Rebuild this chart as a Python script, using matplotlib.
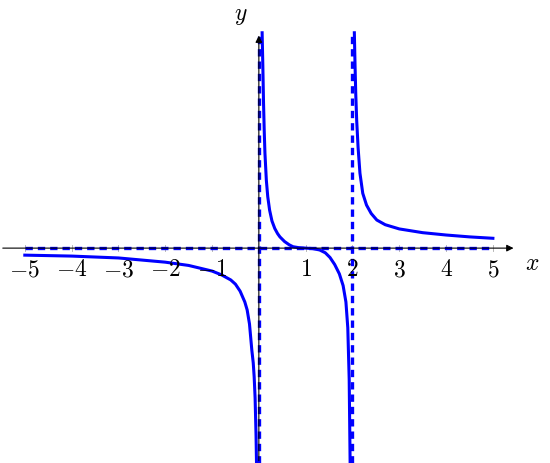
import matplotlib.pyplot as plt

plt.rcParams['mathtext.fontset'] = 'cm'

# branch x < 0
x1 = [-5, -4, -3, -2, -1.5, -1, -0.8, -0.6, -0.5, -0.4, -0.3, -0.25, -0.2,
      -0.15, -0.12, -0.1, -0.08, -0.07, -0.06, -0.05]
y1 = [-0.15, -0.17, -0.21, -0.30, -0.37, -0.49, -0.57, -0.68, -0.77, -0.92,
      -1.15, -1.32, -1.62, -2.18, -2.45, -2.75, -3.2, -3.6, -4.0, -4.6]
# branch 0 < x < 2
x2 = [0.07, 0.085, 0.1, 0.115, 0.13, 0.16, 0.19, 0.23, 0.28, 0.34, 0.4, 0.45,
      0.55, 0.65, 0.73, 0.85, 1.0, 1.15, 1.3, 1.42, 1.52, 1.62, 1.72, 1.8,
      1.86, 1.9, 1.93, 1.95]
y2 = [4.6, 3.9, 3.1, 2.5, 2.03, 1.45, 1.1, 0.81, 0.58, 0.42, 0.31, 0.24,
      0.14, 0.07, 0.03, 0.01, 0.0, -0.01, -0.04, -0.1, -0.2, -0.35, -0.55,
      -0.8, -1.15, -1.7, -2.8, -4.6]
# branch x > 2
x3 = [2.04, 2.055, 2.07, 2.09, 2.12, 2.16, 2.22, 2.3, 2.4, 2.52, 2.7, 3.0,
      3.5, 4.0, 4.5, 5.0]
y3 = [4.6, 3.9, 3.3, 2.73, 2.15, 1.6, 1.17, 0.92, 0.74, 0.6, 0.5, 0.41,
      0.33, 0.28, 0.24, 0.21]

ticks = [-5, -4, -3, -2, -1, 1, 2, 3, 4, 5]

fig = plt.figure(figsize=(5.5, 4.63), dpi=100)
ax = fig.add_axes([0, 0, 1, 1])
ax.set_xlim(-5.53, 6.22)
ax.set_ylim(-4.59, 5.30)
ax.axis('off')

# axes with arrows
ax.annotate('', xy=(5.5, 0), xytext=(-5.53, 0),
            arrowprops=dict(arrowstyle='-|>', color='black', lw=0.8, mutation_scale=10))
ax.annotate('', xy=(0, 4.6), xytext=(0, -4.6),
            arrowprops=dict(arrowstyle='-|>', color='black', lw=0.8, mutation_scale=10))
for t in ticks:
    ax.plot([t, t], [-0.07, 0.07], color='#aaaaaa', lw=0.6)
    ax.text(t, -0.2, '$%d$' % t, ha='center', va='top', fontsize=17)
ax.text(5.85, -0.32, '$x$', ha='center', va='center', fontsize=17)
ax.text(-0.38, 4.97, '$y$', ha='center', va='center', fontsize=17)

# asymptotes
dash = dict(color='blue', lw=2.4, dashes=(2.2, 1.5))
ax.plot([-5, 5], [0, 0], **dash)
ax.plot([0, 0], [-4.6, 4.55], **dash)
ax.plot([2, 2], [-4.6, 4.55], **dash)

for xs, ys in [(x1, y1), (x2, y2), (x3, y3)]:
    ax.plot(xs, ys, color='blue', lw=2.2)

fig.savefig('out.png', dpi=100)
